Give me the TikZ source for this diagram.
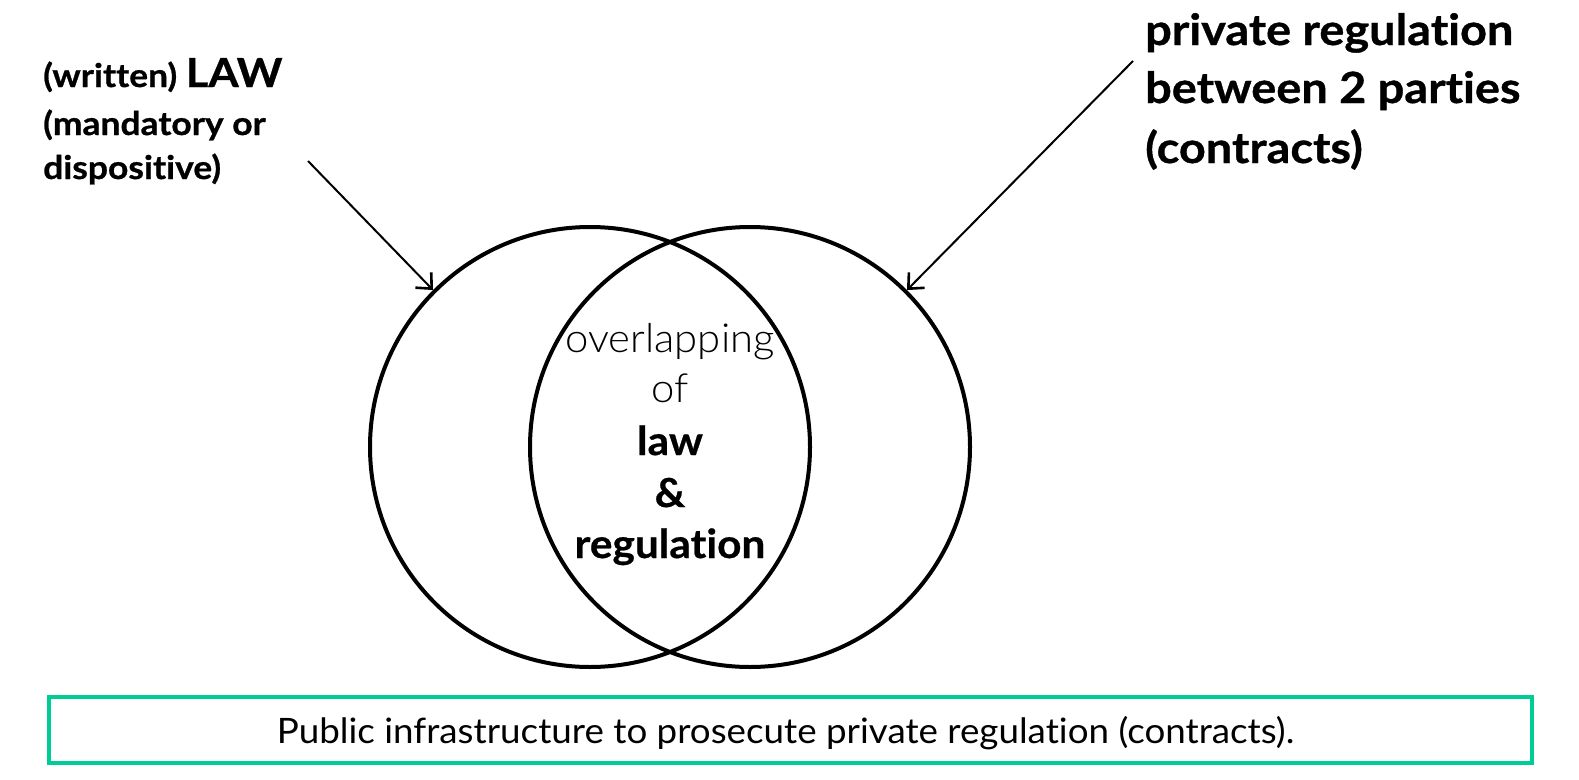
\documentclass[tikz,border=0pt]{standalone}
\usepackage{fontspec}
\setmainfont{Lato}[RawFeature={-liga;-clig;-dlig;-calt}]
\newfontfamily\latolight{Lato Light}[RawFeature={-liga;-clig;-dlig;-calt}, FakeStretch=1.045]
\newfontfamily\labelfont{Lato}[RawFeature={-liga;-clig;-dlig;-calt}, FakeStretch=1.09, FakeBold=0.8]
\newfontfamily\midfont{Lato}[RawFeature={-liga;-clig;-dlig;-calt}, FakeStretch=1.06, FakeBold=0.6]
\newfontfamily\boxfont{Lato}[RawFeature={-liga;-clig;-dlig;-calt}, FakeStretch=1.05]
\usetikzlibrary{arrows.meta}
\definecolor{boxgreen}{RGB}{0,204,150}
\begin{document}
\begin{tikzpicture}[x=1pt,y=-1pt,
  lbl/.style={inner sep=0pt, anchor=base west},
  mid/.style={inner sep=0pt, anchor=base},
  ring/.style={circle, draw, line width=4pt, minimum size=440pt, inner sep=0pt},
  arr/.style={line width=2pt, -{Straight Barb[length=12pt,width=22pt,line width=2.6pt]}},
  lefttxt/.style={font=\labelfont\bfseries\fontsize{32.5}{34}\selectfont},
  righttxt/.style={font=\labelfont\bfseries\fontsize{43}{45}\selectfont},
  lightmid/.style={font=\latolight\fontsize{40}{42}\selectfont},
  boldmid/.style={font=\midfont\bfseries\fontsize{40}{42}\selectfont}]
\useasboundingbox (0,0) rectangle (1579,779);
% circles
\node[ring] (L) at (590,447) {};
\node[ring] (R) at (750,447) {};
% left label
\node[lbl, lefttxt] (w1) at (43,87) {(written) {\fontsize{40}{44}\selectfont LAW}};
\node[lbl, lefttxt] (w2) at (43,135) {(mandatory or};
\node[lbl, lefttxt] (w3) at (43,179) {dispositive)};
% right label
\node[lbl, righttxt] (p1) at (1145,45) {private regulation};
\node[lbl, righttxt] (p2) at (1145,103) {between 2 parties};
\node[lbl, righttxt] (p3) at (1145,163) {(contracts)};
% centre
\node[mid, lightmid] (c1) at (670,352) {overlapping};
\node[mid, lightmid] (c2) at (670,402) {of};
\node[mid, boldmid] (c3) at (670,455) {law};
\node[mid, boldmid] (c4) at (670,507) {\&};
\node[mid, boldmid] (c5) at (670,558) {regulation};
% arrows
\coordinate (a1) at (308,161);
\coordinate (a2) at (1133,61);
\draw[arr] (a1) -- (L.135);
\draw[arr] (a2) -- (R.45);
% bottom box
\node[draw=boxgreen, line width=4pt, minimum width=1483pt, minimum height=66pt, inner sep=0pt] (box) at (790.5,730) {};
\node[mid, font=\boxfont\fontsize{35}{37}\selectfont] (bt) at (785.5,743) {Public infrastructure to prosecute private regulation (contracts).};
\end{tikzpicture}
\end{document}
